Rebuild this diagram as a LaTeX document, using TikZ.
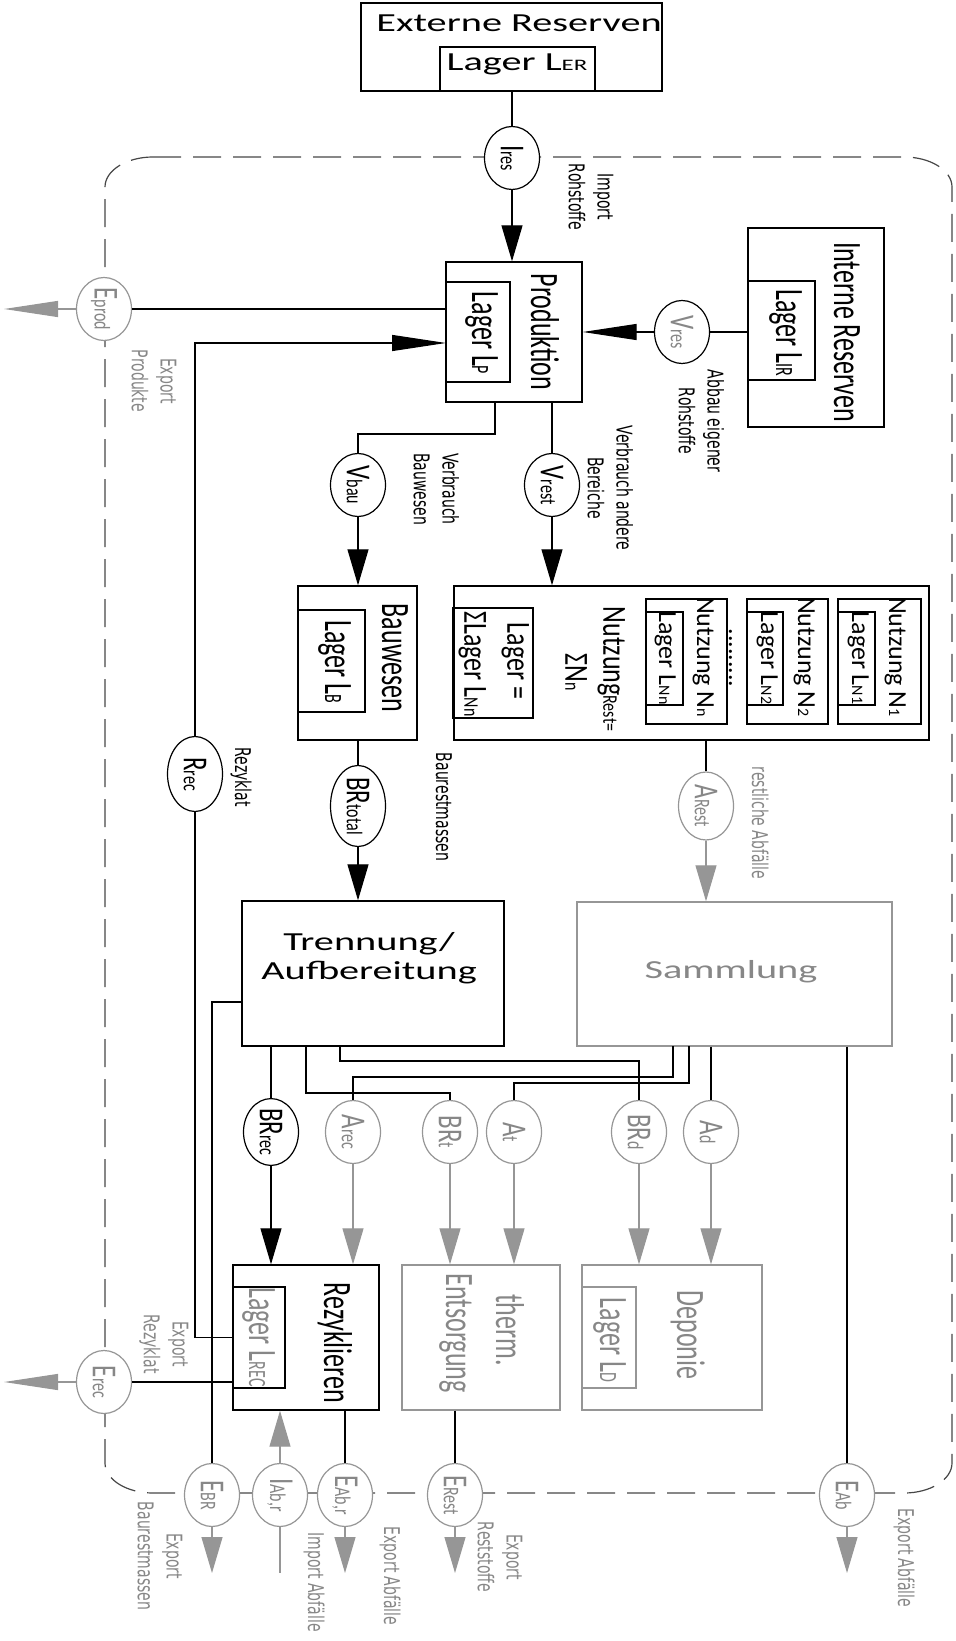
\documentclass[tikz,border=0pt]{standalone}
\usepackage{fontspec}
\usepackage{graphicx}
\setmainfont{Carlito}
\newfontfamily\dejavu{DejaVu Sans}
\usetikzlibrary{shapes.geometric,arrows.meta}
\definecolor{gr}{RGB}{135,135,135}
\definecolor{gl}{RGB}{150,150,150}
\definecolor{dsh}{RGB}{70,70,70}
\newcommand{\su}[1]{{\fontsize{8}{8}\selectfont #1}}
\newcommand{\vs}[2]{\scalebox{#1}[1]{\rotatebox{-90}{\begin{tabular}{@{}c@{}}#2\end{tabular}}}}
\newcommand{\vt}[1]{\vs{1.55}{#1}}
\newcommand{\hz}[1]{\scalebox{1.55}[1]{\begin{tabular}{@{}c@{}}#1\end{tabular}}}
\newcommand{\ve}[2]{\scalebox{1.4}[1]{\rotatebox{-90}{#1\su{#2}}}}
\begin{document}
\begin{tikzpicture}[x=0.5pt,y=-0.5pt,
  txt/.style={inner sep=0, font=\fontsize{13}{14.5}\selectfont},
  gtxt/.style={txt, text=gr},
  lab/.style={inner sep=0, font=\dejavu\fontsize{7}{9.3}\selectfont},
  glab/.style={lab, text=gr},
  box/.style n args={2}{draw, line width=0.7pt, inner sep=0, minimum width=#1*0.5pt, minimum height=#2*0.5pt},
  gbox/.style n args={2}{box={#1}{#2}, draw=gl},
  ell/.style={ellipse, draw, fill=white, line width=0.6pt, inner sep=0, minimum width=27.5pt, minimum height=31.5pt, font=\fontsize{12.5}{14}\selectfont},
  gell/.style={ell, draw=gl, text=gr},
  ln/.style={line width=0.6pt},
  gln/.style={line width=0.6pt, draw=gl},
  varr/.style={-{Triangle[length=18pt,width=10.5pt]}},
  harr/.style={-{Triangle[length=27pt,width=8pt]}}]
\useasboundingbox (0,0) rectangle (955,1641);
% system boundary
\draw[dsh, line width=0.6pt, dash pattern=on 14pt off 6pt]
  (153,157) -- (904,157) arc[start angle=270,end angle=360,x radius=48,y radius=30]
  -- (952,1463) arc[start angle=0,end angle=90,x radius=48,y radius=30]
  -- (153,1493) arc[start angle=90,end angle=180,x radius=48,y radius=30]
  -- (105,187) arc[start angle=180,end angle=270,x radius=48,y radius=30] -- cycle;
% Externe Reserven
\node[box={301}{88}] (er) at (511.5,47) {};
\node[box={155}{44}] (erl) at (517.5,69) {};
\node[txt] (ert) at (519,26) {\hz{Externe Reserven}};
\node[txt] (erlt) at (517,65) {\hz{Lager L\su{ER}}};
% Produktion
\node[box={136}{140}] (prod) at (514,332) {};
\node[box={64}{100}] (lp) at (478,332) {};
\node[txt] (prodt) at (540,332) {\vt{Produktion}};
\node[txt] (lpt) at (481,333) {\vt{Lager L\su{P}}};
% Interne Reserven
\node[box={136}{199}] (ir) at (816,327.5) {};
\node[box={67}{99}] (lir) at (781.5,330.5) {};
\node[txt] (irt) at (843,332) {\vt{Interne Reserven}};
\node[txt] (lirt) at (785,333) {\vt{Lager L\su{IR}}};
% ellipses top
\node[ell] (ires) at (512,158) {\ve{I}{res}};
\node[ell, text=gr] (vres) at (682,332) {\ve{V}{res}};
\node[gell] (eprod) at (104,309) {\ve{E}{prod}};
\node[ell] (vbau) at (358,485) {\ve{V}{bau}};
\node[ell] (vrest) at (552,485) {\ve{V}{rest}};
% Bauwesen
\node[box={119}{154}] (bau) at (357.5,663) {};
\node[box={67}{102}] (lb) at (331.5,661) {};
\node[txt] (baut) at (391,658) {\vt{Bauwesen}};
\node[txt] (lbt) at (334,662) {\vt{Lager L\su{B}}};
% Nutzung
\node[box={475}{154}] (nutz) at (691.5,663) {};
\node[box={83}{125}] (n1) at (879.5,661.5) {};
\node[box={37}{93}] (n1l) at (856.5,658.5) {};
\node[box={81}{125}] (n2) at (787.5,661.5) {};
\node[box={36}{93}] (n2l) at (765,658.5) {};
\node[box={81}{125}] (nn) at (686.5,661.5) {};
\node[box={37}{93}] (nnl) at (664.5,658.5) {};
\node[txt] (n1t) at (895,657) {\vs{1}{Nutzung N\su{1}}};
\node[txt] (n1lt) at (858,658) {\vs{1}{Lager L\su{N1}}};
\node[txt] (n2t) at (804,657) {\vs{1}{Nutzung N\su{2}}};
\node[txt] (n2lt) at (767,658) {\vs{1}{Lager L\su{N2}}};
\node[txt] (nnt) at (703,657) {\vs{1}{Nutzung N\su{n}}};
\node[txt] (nnlt) at (665,658) {\vs{1}{Lager L\su{Nn}}};
\node[txt] (dots) at (735,658) {\vs{1}{.........}};
\node[txt] (nrt) at (611,669) {\vs{1.3}{Nutzung\su{Rest=}}};
\node[txt] (snt) at (573,672) {\vs{1.3}{ΣN\su{n}}};
\node[box={80}{110}] (lsum) at (493,663) {};
\node[txt] (lsumt1) at (515,661) {\vs{1.3}{Lager =}};
\node[txt] (lsumt2) at (472,664) {\vs{1.3}{ΣLager L\su{Nn}}};
% middle ellipses
\node[ell, minimum height=37.5pt] (rrec) at (195,774) {\ve{R}{rec}};
\node[ell, minimum height=34pt] (brtot) at (358,806) {\ve{BR}{total}};
\node[gell, minimum height=34pt] (arest) at (706,806) {\ve{A}{Rest}};
% Trennung, Sammlung
\node[box={262}{145}] (trenn) at (373,973.5) {};
\node[txt] (trennt) at (369,959) {\hz{Trennung/\\Aufbereitung}};
\node[gbox={315}{144}] (samm) at (734.5,974) {};
\node[gtxt] (sammt) at (731,973) {\hz{Sammlung}};
% row ellipses
\node[ell] (brrec) at (271,1132) {\ve{BR}{rec}};
\node[gell] (arec) at (353,1132) {\ve{A}{rec}};
\node[gell] (brt) at (450,1132) {\ve{BR}{t}};
\node[gell] (atn) at (514,1132) {\ve{A}{t}};
\node[gell] (brd) at (639,1132) {\ve{BR}{d}};
\node[gell] (ad) at (711,1132) {\ve{A}{d}};
% target boxes
\node[box={146}{145}] (rez) at (306,1337.5) {};
\node[box={52}{101}] (lrec) at (259,1337.5) {};
\node[txt] (rezt) at (333,1343) {\vt{Rezyklieren}};
\node[gtxt] (lrect) at (258,1337) {\vt{Lager L\su{REC}}};
\node[gbox={158}{145}] (therm) at (481,1337.5) {};
\node[gtxt] (thermt1) at (505,1330) {\vt{therm.}};
\node[gtxt] (thermt2) at (455,1333) {\vt{Entsorgung}};
\node[gbox={180}{145}] (dep) at (672,1337.5) {};
\node[gbox={54}{101}] (ld) at (609,1337.5) {};
\node[gtxt] (dept) at (686,1335) {\vt{Deponie}};
\node[gtxt] (ldt) at (609,1340) {\vt{Lager L\su{D}}};
% boundary ellipses
\node[gell] (erec) at (104,1382) {\ve{E}{rec}};
\node[gell] (ebr) at (212,1495) {\ve{E}{BR}};
\node[gell] (iabr) at (280,1495) {\ve{I}{Ab,r}};
\node[gell] (eabr) at (345,1495) {\ve{E}{Ab,r}};
\node[gell] (erest) at (455,1495) {\ve{E}{Rest}};
\node[gell] (eab) at (847,1495) {\ve{E}{Ab}};
% labels
\node[lab] (l1) at (589,197) {\vt{Import\\Rohstoffe}};
\node[glab] (l2) at (152,381) {\vt{Export\\Produkte}};
\node[lab] (l3) at (699,421) {\vt{Abbau eigener\\Rohstoffe}};
\node[lab] (l4) at (608,488) {\vt{Verbrauch andere\\Bereiche}};
\node[lab] (l5) at (434,489) {\vt{Verbrauch\\Bauwesen}};
\node[lab] (l6) at (241,777) {\vt{Rezyklat}};
\node[lab] (l7) at (442,807) {\vt{Baurestmassen}};
\node[glab] (l8) at (758,823) {\vt{restliche Abfälle}};
\node[glab] (l9) at (164,1344) {\vt{Export\\Rezyklat}};
\node[glab] (l10) at (158,1556) {\vt{Export\\Baurestmassen}};
\node[glab] (l11) at (314,1582) {\vt{Import Abfälle}};
\node[glab] (l12) at (390,1576) {\vt{Export Abfälle}};
\node[glab] (l13) at (498,1557) {\vt{Export\\Reststoffe}};
\node[glab] (l14) at (904,1558) {\vt{Export Abfälle}};
% free ends
\coordinate (exp1) at (4,309);
\coordinate (exp2) at (4,1382);
\coordinate (rin) at (446,343);
\coordinate (tl) at (242,1002);
\coordinate (pb1) at (495,402);
\coordinate (t2) at (306,1046);
\coordinate (t3) at (340,1046);
\coordinate (s1) at (673,1046);
\coordinate (s2) at (689,1046);
\coordinate (o1) at (212,1573);
\coordinate (o2) at (280,1573);
\coordinate (o3) at (345,1573);
\coordinate (o4) at (455,1573);
\coordinate (o5) at (847,1573);
% connectors
\draw[ln] (ires.north |- er.south) -- (ires.north);
\draw[ln,varr] (ires.south) -- (ires.south |- prod.north);
\draw[ln] (vres.east -| lir.west) -- (vres.east);
\draw[ln,harr] (vres.west) -- (vres.west -| prod.east);
\draw[ln] (eprod.east) -- (eprod.east -| prod.west);
\draw[gln,harr] (eprod.west) -- (exp1);
\draw[ln,harr] (rrec.north) |- (rin);
\draw[ln] (lrec.west) -| (rrec.south);
\draw[ln] (tl) -| (ebr.north);
\draw[gln,varr] (ebr.south) -- (o1);
\draw[ln] (pb1) -- (495,434) -| (vbau.north);
\draw[ln] (vrest.north |- prod.south) -- (vrest.north);
\draw[ln,varr] (vbau.south) -- (vbau.south |- bau.north);
\draw[ln,varr] (vrest.south) -- (vrest.south |- nutz.north);
\draw[ln] (brtot.north |- bau.south) -- (brtot.north);
\draw[ln,varr] (brtot.south) -- (brtot.south |- trenn.north);
\draw[ln] (arest.north |- nutz.south) -- (arest.north);
\draw[gln,varr] (arest.south) -- (arest.south |- samm.north);
\draw[ln] (brrec.north |- trenn.south) -- (brrec.north);
\draw[ln] (t2) -- (306,1093) -| (brt.north);
\draw[ln] (t3) -- (340,1061) -| (brd.north);
\draw[ln] (s1) -- (673,1077) -| (arec.north);
\draw[ln] (s2) -- (689,1083) -| (atn.north);
\draw[ln] (ad.north |- samm.south) -- (ad.north);
\draw[ln] (eab.north |- samm.south) -- (eab.north);
\draw[ln,varr] (brrec.south) -- (brrec.south |- rez.north);
\draw[gln,varr] (arec.south) -- (arec.south |- rez.north);
\draw[gln,varr] (brt.south) -- (brt.south |- therm.north);
\draw[gln,varr] (atn.south) -- (atn.south |- therm.north);
\draw[gln,varr] (brd.south) -- (brd.south |- dep.north);
\draw[gln,varr] (ad.south) -- (ad.south |- dep.north);
\draw[ln] (erec.east) -- (erec.east -| lrec.west);
\draw[gln,harr] (erec.west) -- (exp2);
\draw[gln,varr] (iabr.north) -- (iabr.north |- rez.south);
\draw[gln] (iabr.south) -- (o2);
\draw[ln] (eabr.north |- rez.south) -- (eabr.north);
\draw[gln,varr] (eabr.south) -- (o3);
\draw[ln] (erest.north |- therm.south) -- (erest.north);
\draw[gln,varr] (erest.south) -- (o4);
\draw[gln,varr] (eab.south) -- (o5);
\end{tikzpicture}
\end{document}
